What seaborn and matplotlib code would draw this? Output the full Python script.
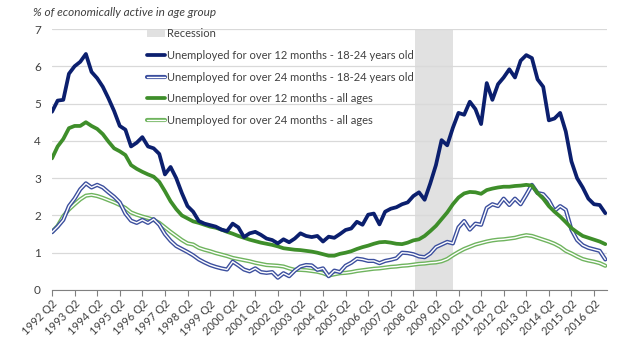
import numpy as np
import pandas as pd
import matplotlib
matplotlib.use("Agg")
import matplotlib.pyplot as plt
import matplotlib.patheffects as pe
from matplotlib.patches import Patch
from matplotlib.lines import Line2D
import seaborn as sns

years = list(range(1992, 2017))
tick_labels = [f"{y} Q2" for y in years]

# quarterly readings from 1992 Q2 to 2016 Q4
u12_young = [4.78, 5.08, 5.10, 5.80, 6.00, 6.12, 6.33, 5.85, 5.68, 5.45,
             5.14, 4.80, 4.40, 4.30, 3.85, 3.95, 4.10, 3.85, 3.80, 3.65,
             3.10, 3.30, 3.00, 2.60, 2.25, 2.10, 1.85, 1.78, 1.74, 1.70,
             1.62, 1.58, 1.78, 1.68, 1.42, 1.52, 1.56, 1.48, 1.38, 1.34,
             1.25, 1.36, 1.28, 1.38, 1.52, 1.45, 1.42, 1.45, 1.30, 1.43,
             1.40, 1.50, 1.61, 1.65, 1.83, 1.75, 2.02, 2.05, 1.76, 2.10,
             2.18, 2.22, 2.30, 2.35, 2.52, 2.62, 2.42, 2.86, 3.35, 4.02,
             3.88, 4.35, 4.75, 4.70, 5.05, 4.85, 4.45, 5.55, 5.10, 5.52,
             5.70, 5.92, 5.70, 6.15, 6.30, 6.22, 5.65, 5.45, 4.55, 4.60,
             4.75, 4.25, 3.45, 3.00, 2.75, 2.45, 2.30, 2.28, 2.06]
u24_young = [1.55, 1.70, 1.88, 2.25, 2.45, 2.70, 2.86, 2.75, 2.82, 2.75,
             2.62, 2.50, 2.35, 2.05, 1.86, 1.80, 1.88, 1.80, 1.90, 1.75,
             1.50, 1.32, 1.18, 1.10, 1.02, 0.93, 0.82, 0.74, 0.67, 0.62,
             0.58, 0.55, 0.76, 0.66, 0.55, 0.50, 0.58, 0.48, 0.46, 0.48,
             0.33, 0.45, 0.37, 0.52, 0.63, 0.67, 0.66, 0.54, 0.58, 0.37,
             0.52, 0.48, 0.65, 0.73, 0.84, 0.82, 0.78, 0.78, 0.72, 0.78,
             0.81, 0.85, 1.00, 0.99, 0.96, 0.90, 0.88, 0.98, 1.15, 1.22,
             1.29, 1.25, 1.68, 1.85, 1.62, 1.78, 1.75, 2.20, 2.30, 2.25,
             2.45, 2.28, 2.45, 2.30, 2.55, 2.82, 2.60, 2.57, 2.40, 2.12,
             2.25, 2.15, 1.62, 1.34, 1.20, 1.13, 1.09, 1.05, 0.82]
u12_all = [3.53, 3.85, 4.05, 4.34, 4.40, 4.40, 4.50, 4.40, 4.32, 4.18,
           3.98, 3.80, 3.72, 3.62, 3.35, 3.25, 3.17, 3.10, 3.04, 2.90,
           2.65, 2.38, 2.17, 2.00, 1.92, 1.84, 1.80, 1.75, 1.70, 1.67,
           1.62, 1.56, 1.51, 1.45, 1.40, 1.35, 1.31, 1.27, 1.24, 1.21,
           1.17, 1.12, 1.10, 1.08, 1.07, 1.05, 1.03, 1.00, 0.96, 0.92,
           0.92, 0.97, 1.00, 1.04, 1.10, 1.15, 1.19, 1.24, 1.28, 1.29,
           1.27, 1.24, 1.23, 1.27, 1.33, 1.36, 1.45, 1.58, 1.72, 1.90,
           2.08, 2.30, 2.48, 2.59, 2.63, 2.62, 2.58, 2.68, 2.72, 2.75,
           2.77, 2.77, 2.79, 2.80, 2.82, 2.80, 2.60, 2.45, 2.25, 2.10,
           1.97, 1.82, 1.66, 1.55, 1.45, 1.40, 1.35, 1.30, 1.23]
u24_all = [1.56, 1.72, 1.98, 2.16, 2.30, 2.43, 2.53, 2.55, 2.52, 2.47,
           2.41, 2.35, 2.28, 2.20, 2.08, 2.02, 1.97, 1.93, 1.88, 1.80,
           1.68, 1.56, 1.45, 1.34, 1.25, 1.22, 1.13, 1.08, 1.04, 0.99,
           0.95, 0.91, 0.86, 0.83, 0.80, 0.77, 0.73, 0.70, 0.67, 0.66,
           0.65, 0.63, 0.58, 0.54, 0.54, 0.53, 0.51, 0.49, 0.45, 0.39,
           0.42, 0.45, 0.46, 0.48, 0.51, 0.53, 0.55, 0.57, 0.58, 0.60,
           0.62, 0.63, 0.65, 0.66, 0.68, 0.70, 0.71, 0.73, 0.74, 0.77,
           0.83, 0.93, 1.02, 1.10, 1.16, 1.22, 1.26, 1.30, 1.33, 1.35,
           1.36, 1.38, 1.40, 1.44, 1.47, 1.45, 1.40, 1.35, 1.30, 1.24,
           1.16, 1.05, 0.98, 0.90, 0.83, 0.79, 0.76, 0.72, 0.65]

recession_start, recession_end = 64.3, 71.0  # quarter index span

labels = ["Unemployed for over 12 months - 18-24 years old",
          "Unemployed for over 24 months - 18-24 years old",
          "Unemployed for over 12 months - all ages",
          "Unemployed for over 24 months - all ages"]

q = np.arange(len(u12_young))
df = pd.DataFrame({"q": q, labels[0]: u12_young, labels[1]: u24_young,
                   labels[2]: u12_all, labels[3]: u24_all})

sns.set_theme(style="white")
plt.rcParams["font.family"] = ["Lato", "DejaVu Sans"]

fig = plt.figure(figsize=(6.2, 3.49), dpi=100)
ax = fig.add_axes([52 / 620, 1 - 290 / 349, (607 - 52) / 620, (290 - 29) / 349])

navy = "#0b1f6e"
mblue = "#3c4f9e"
dgreen = "#3e8e2a"
lgreen = "#6fb45e"

ax.axvspan(recession_start, recession_end, color="#e1e1e1", lw=0, zorder=0)

sns.lineplot(data=df, x="q", y=labels[3], ax=ax, color="white", lw=1.0,
             path_effects=[pe.Stroke(linewidth=3.0, foreground=lgreen), pe.Normal()], zorder=3)
sns.lineplot(data=df, x="q", y=labels[1], ax=ax, color="white", lw=1.0,
             path_effects=[pe.Stroke(linewidth=3.0, foreground=mblue), pe.Normal()], zorder=4)
sns.lineplot(data=df, x="q", y=labels[2], ax=ax, color=dgreen, lw=2.7, zorder=5)
sns.lineplot(data=df, x="q", y=labels[0], ax=ax, color=navy, lw=2.7, zorder=6)

ax.set_xlim(0, 98.3)
ax.set_ylim(0, 7)
ax.set_yticks(range(0, 8))
ax.set_xticks(np.arange(0, 97, 4))
ax.set_xticklabels(tick_labels, rotation=45, ha="right", rotation_mode="anchor",
                   fontsize=8, color="#404040")
ax.tick_params(axis="y", labelsize=8.5, labelcolor="#404040", length=0, pad=8)
ax.tick_params(axis="x", bottom=True, length=4, width=0.8, color="#808080", pad=2)
ax.grid(axis="y", color="#d9d9d9", lw=0.9)
ax.set_axisbelow(True)
for s in ["top", "right", "left"]:
    ax.spines[s].set_visible(False)
ax.spines["bottom"].set_color("#808080")
ax.spines["bottom"].set_linewidth(0.8)
ax.set_xlabel("")
ax.set_ylabel("")

fig.text(33 / 620, 1 - 13 / 349, "% of economically active in age group",
         fontsize=8.5, style="italic", color="#404040", va="center")

handles = [Patch(facecolor="#e1e1e1", edgecolor="none"),
           Line2D([], [], color=navy, lw=2.7),
           Line2D([], [], color="white", lw=1.0,
                  path_effects=[pe.Stroke(linewidth=3.0, foreground=mblue), pe.Normal()]),
           Line2D([], [], color=dgreen, lw=2.7),
           Line2D([], [], color="white", lw=1.0,
                  path_effects=[pe.Stroke(linewidth=3.0, foreground=lgreen), pe.Normal()])]
leg = fig.legend(handles, ["Recession"] + labels, loc="upper left",
                 bbox_to_anchor=(143 / 620, 1 - 24 / 349), frameon=False,
                 fontsize=8, labelcolor="#404040", handlelength=1.6,
                 handletextpad=0.15, labelspacing=0.95, borderaxespad=0,
                 handleheight=0.7)

fig.savefig("out.png", dpi=100, facecolor="white")
